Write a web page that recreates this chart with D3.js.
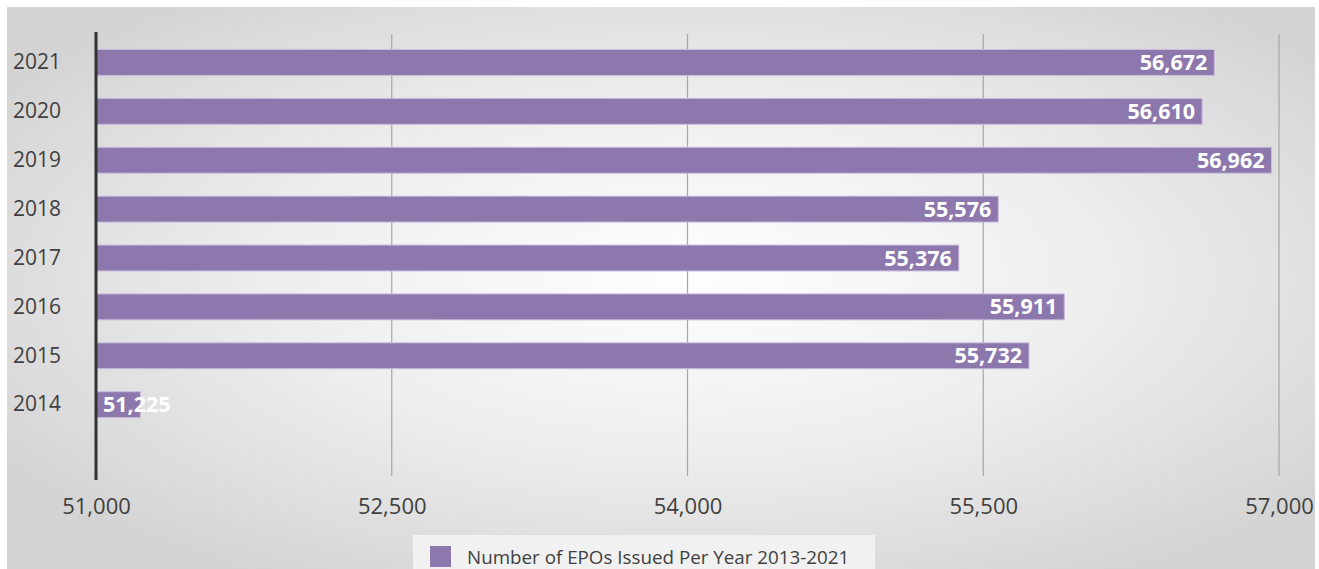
<!DOCTYPE html>
<html>
<head>
<meta charset="utf-8">
<script src="https://cdn.jsdelivr.net/npm/d3@7"></script>
<style>
  html, body { margin: 0; padding: 0; background: #ffffff; }
  svg { display: block; }
  text { font-family: "Open Sans", "DejaVu Sans", sans-serif; }
</style>
</head>
<body>
<svg id="chart" width="1319" height="569"></svg>
<script>
// Years shown on the category axis (2013 has no recorded value)
const years = ["2021", "2020", "2019", "2018", "2017", "2016", "2015", "2014", "2013"];
// Number of EPOs issued in each year
const epoCounts = [56672, 56610, 56962, 55576, 55376, 55911, 55732, 51225, null];
// Value axis ticks
const xTicks = [51000, 52500, 54000, 55500, 57000];
const seriesName = "Number of EPOs Issued Per Year 2013-2021";

const data = years.map((y, i) => ({ year: y, value: epoCounts[i] }));

const svg = d3.select("#chart");
const W = 1319, H = 569;
const barColor = "#8c78ac";

// Soft radial backdrop behind the whole chart
const defs = svg.append("defs");
const grad = defs.append("radialGradient")
  .attr("id", "bg").attr("cx", "52%").attr("cy", "48%").attr("r", "62%");
grad.append("stop").attr("offset", "0%").attr("stop-color", "#fefefe");
grad.append("stop").attr("offset", "50%").attr("stop-color", "#eeeeee");
grad.append("stop").attr("offset", "100%").attr("stop-color", "#d4d4d4");

svg.append("rect").attr("x", 7).attr("y", 7).attr("width", 1308).attr("height", H - 7)
  .attr("fill", "url(#bg)");

const x = d3.scaleLinear().domain([51000, 57000]).range([96, 1279]);
const y = d3.scaleBand().domain(years).range([38, 478]).paddingInner(0.47).paddingOuter(0.235);

// Vertical gridlines
svg.append("g").selectAll("line").data(xTicks.slice(1)).join("line")
  .attr("x1", d => x(d)).attr("x2", d => x(d))
  .attr("y1", 34).attr("y2", 476)
  .attr("stroke", "#a6a6a6").attr("stroke-width", 1.2);

// Bottom value axis labels
const xAxis = d3.axisBottom(x).tickValues(xTicks).tickSize(0).tickPadding(0)
  .tickFormat(d3.format(","));
const gx = svg.append("g").attr("transform", "translate(0,498)").call(xAxis);
gx.select(".domain").remove();
gx.selectAll("text").attr("fill", "#404040").attr("font-size", 22).attr("dy", "0.71em");

// Bars
const bars = data.filter(d => d.value != null);
svg.append("g").selectAll("rect").data(bars).join("rect")
  .attr("x", x(51000))
  .attr("y", d => y(d.year))
  .attr("width", d => x(d.value) - x(51000))
  .attr("height", y.bandwidth())
  .attr("fill", barColor)
  .attr("stroke", "#c9bddf").attr("stroke-width", 1);

// Category axis line and year labels
svg.append("line").attr("x1", 96).attr("x2", 96).attr("y1", 32).attr("y2", 480)
  .attr("stroke", "#333333").attr("stroke-width", 3);
const yAxis = d3.axisLeft(y).tickSize(0).tickPadding(0).tickFormat(d => d === "2013" ? "" : d);
const gy = svg.append("g").attr("transform", "translate(61,0)").call(yAxis);
gy.select(".domain").remove();
gy.selectAll("text").attr("fill", "#404040").attr("font-size", 21);

// Value labels at the bar ends
const fmt = d3.format(",");
const lbl = svg.append("g").selectAll("text").data(bars).join("text")
  .attr("y", d => y(d.year) + y.bandwidth() / 2)
  .attr("dy", "0.35em")
  .attr("fill", "#ffffff")
  .attr("font-weight", "bold")
  .attr("font-size", 21.5)
  .text(d => fmt(d.value));
lbl.each(function (d) {
  const w = this.getComputedTextLength();
  const end = x(d.value) - 7;
  const node = d3.select(this);
  if (end - w < x(51000) + 5) {
    node.attr("x", x(51000) + 7).attr("text-anchor", "start");
  } else {
    node.attr("x", end).attr("text-anchor", "end");
  }
});

// Legend
const lg = svg.append("g");
lg.append("rect").attr("x", 413).attr("y", 535).attr("width", 462).attr("height", 34)
  .attr("fill", "#f1f1f1");
lg.append("rect").attr("x", 430).attr("y", 546).attr("width", 21).attr("height", 21)
  .attr("fill", barColor);
lg.append("text").attr("x", 467).attr("y", 557).attr("dy", "0.35em")
  .attr("fill", "#404040").attr("font-size", 18.8).text(seriesName);
</script>
</body>
</html>
